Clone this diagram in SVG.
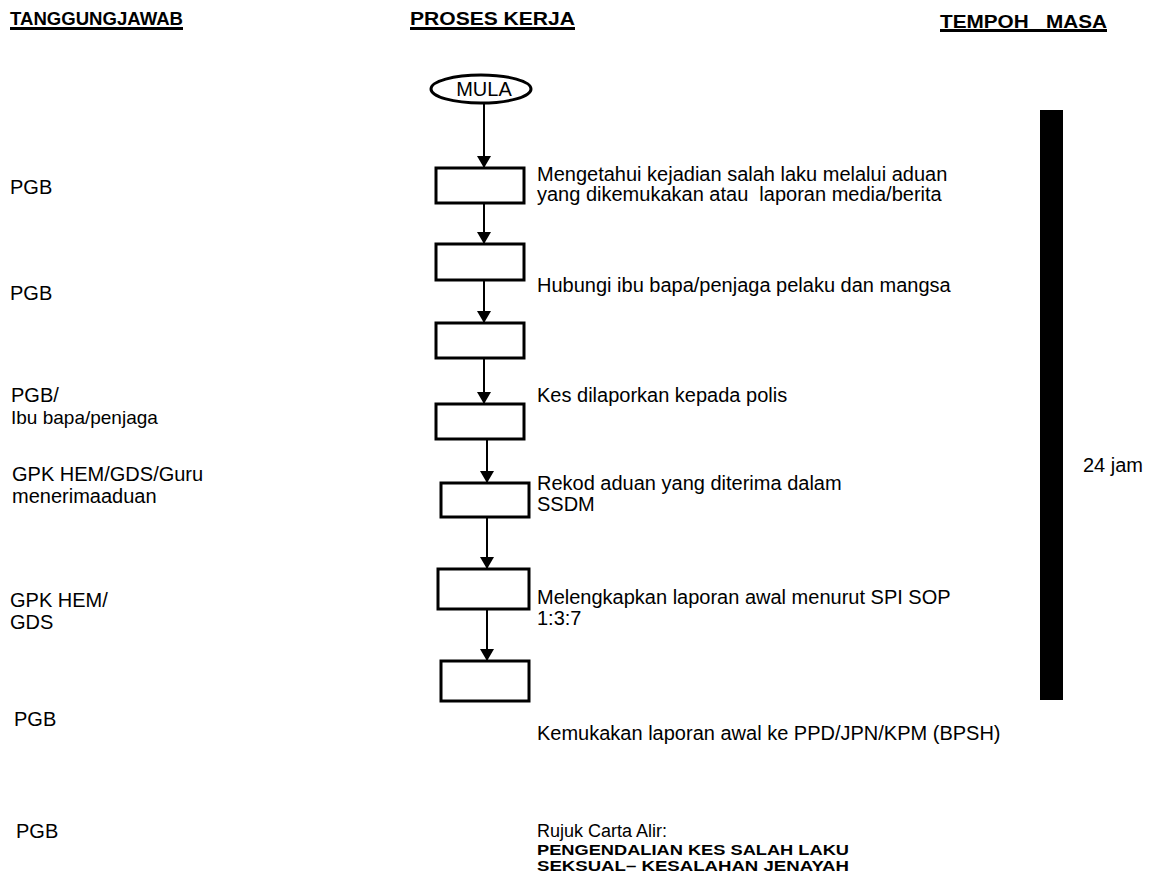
<svg xmlns="http://www.w3.org/2000/svg" width="1152" height="878" viewBox="0 0 1152 878">
<defs>
<style>
text{font-family:"Liberation Sans",Arial,sans-serif;fill:#000;}
.h{font-weight:bold;font-size:19px;}
.t{font-size:20px;}
.l{font-size:20px;}
.b{font-weight:bold;font-size:14px;}
.box{fill:#fff;stroke:#000;stroke-width:3;}
.conn{stroke:#000;stroke-width:2;fill:none;marker-end:url(#ah);}
</style>
<marker id="ah" markerUnits="userSpaceOnUse" markerWidth="14" markerHeight="14" refX="12" refY="7" orient="auto">
<path d="M0,0 L12,7 L0,14 Z" fill="#000"/>
</marker>
</defs>
<rect width="1152" height="878" fill="#fff"/>
<g id="headers">
<text class="h" x="10" y="25" textLength="173" lengthAdjust="spacingAndGlyphs">TANGGUNGJAWAB</text>
<rect x="10" y="27" width="173" height="3"/>
<text class="h" x="410" y="25" textLength="165" lengthAdjust="spacingAndGlyphs">PROSES KERJA</text>
<rect x="410" y="27" width="165" height="3"/>
<text class="h" x="940" y="28" xml:space="preserve" textLength="167" lengthAdjust="spacingAndGlyphs">TEMPOH   MASA</text>
<rect x="940" y="29" width="167" height="3"/>
</g>
<g id="connectors">
<line class="conn" x1="484" y1="103" x2="484" y2="168"/>
<line class="conn" x1="484" y1="203" x2="484" y2="244"/>
<line class="conn" x1="484" y1="280" x2="484" y2="323"/>
<line class="conn" x1="484" y1="358" x2="484" y2="404"/>
<line class="conn" x1="487" y1="439" x2="487" y2="483"/>
<line class="conn" x1="487" y1="517" x2="487" y2="569"/>
<line class="conn" x1="487" y1="609" x2="487" y2="661"/>
</g>
<g id="mula">
<ellipse cx="481" cy="89" rx="50" ry="14" fill="#fff" stroke="#000" stroke-width="3"/>
<text class="t" x="484" y="96" text-anchor="middle">MULA</text>
</g>
<g id="step1">
<rect class="box" x="436" y="168" width="88" height="35"/>
<text class="t" x="537" y="181">Mengetahui kejadian salah laku melalui aduan</text>
<text class="t" x="537" y="201" xml:space="preserve">yang dikemukakan atau  laporan media/berita</text>
</g>
<g id="step2">
<rect class="box" x="436" y="244" width="88" height="36"/>
<text class="t" x="537" y="292">Hubungi ibu bapa/penjaga pelaku dan mangsa</text>
</g>
<g id="step3">
<rect class="box" x="436" y="323" width="88" height="35"/>
</g>
<g id="step4">
<rect class="box" x="436" y="404" width="88" height="35"/>
<text class="t" x="537" y="402">Kes dilaporkan kepada polis</text>
</g>
<g id="step5">
<rect class="box" x="441" y="483" width="88" height="34"/>
<text class="t" x="537" y="490">Rekod aduan yang diterima dalam</text>
<text class="t" x="537" y="511">SSDM</text>
</g>
<g id="step6">
<rect class="box" x="438" y="569" width="91" height="40"/>
<text class="t" x="537" y="604">Melengkapkan laporan awal menurut SPI SOP</text>
<text class="t" x="537" y="625">1:3:7</text>
</g>
<g id="step7">
<rect class="box" x="441" y="661" width="88" height="40"/>
<text class="t" x="537" y="740">Kemukakan laporan awal ke PPD/JPN/KPM (BPSH)</text>
</g>
<g id="rujuk">
<text class="t" x="537" y="837" style="font-size:18px">Rujuk Carta Alir:</text>
<text class="b" x="537" y="855" textLength="312" lengthAdjust="spacingAndGlyphs">PENGENDALIAN KES SALAH LAKU</text>
<text class="b" x="537" y="871" textLength="312" lengthAdjust="spacingAndGlyphs">SEKSUAL– KESALAHAN JENAYAH</text>
</g>
<g id="responsibility">
<text class="l" x="10" y="194">PGB</text>
<text class="l" x="10" y="300">PGB</text>
<text class="l" x="11" y="402">PGB/</text>
<text class="l" x="11" y="424" style="font-size:19px">Ibu bapa/penjaga</text>
<text class="l" x="12" y="481">GPK HEM/GDS/Guru</text>
<text class="l" x="12" y="503">menerimaaduan</text>
<text class="l" x="10" y="607">GPK HEM/</text>
<text class="l" x="10" y="629">GDS</text>
<text class="l" x="14" y="726">PGB</text>
<text class="l" x="16" y="838">PGB</text>
</g>
<g id="tempoh">
<rect x="1040" y="110" width="23" height="590" fill="#000"/>
<text class="t" x="1083" y="472">24 jam</text>
</g>
</svg>
